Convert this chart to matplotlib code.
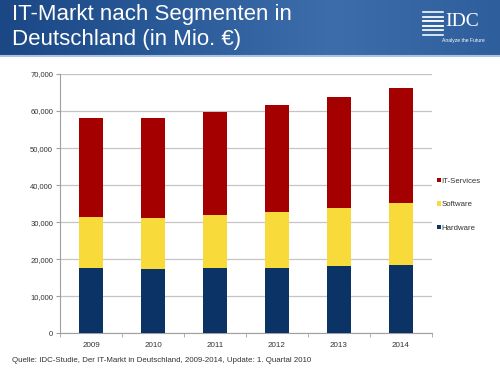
import numpy as np
import matplotlib.pyplot as plt
from matplotlib.colors import LinearSegmentedColormap

plt.rcParams['font.family'] = ['Liberation Sans', 'DejaVu Sans']

# Werte (in Mio. Euro)
years = ['2009', '2010', '2011', '2012', '2013', '2014']
hardware = [17600, 17250, 17500, 17750, 18100, 18550]
software = [13850, 14000, 14500, 15050, 15750, 16600]
services = [26750, 26950, 27750, 28800, 29900, 31150]
series_names = ['Hardware', 'Software', 'IT-Services']
colors = ['#0B3366', '#F8DA3A', '#A50000']

W, H = 500, 370
fig = plt.figure(figsize=(W / 100, H / 100), dpi=100)

# Kopfbereich mit blauem Verlauf
ban = fig.add_axes([0, (H - 56) / H, 1, 56 / H])
grad = np.linspace(0, 1, 256).reshape(1, -1)
cmap = LinearSegmentedColormap.from_list('banner', ['#1B4785', '#2A5A98', '#3D6DAA', '#2E5E9C'])
ban.imshow(grad, aspect='auto', cmap=cmap, extent=[0, 1, 0, 1])
ban.set_xlim(0, 1)
ban.set_ylim(0, 1)
ban.axis('off')
ban.text(0.024, 0.745, 'IT-Markt nach Segmenten in', color='white', fontsize=16,
         va='center', ha='left')
ban.text(0.024, 0.3, 'Deutschland (in Mio. €)', color='white', fontsize=16,
         va='center', ha='left')
# IDC Logo (vereinfacht)
for i, yy in enumerate(np.linspace(0.38, 0.78, 6)):
    ban.plot([0.845, 0.885], [yy, yy], color='white', lw=1.4 - 0.1 * abs(i - 2.5))
ban.text(0.89, 0.62, 'IDC', color='white', fontsize=14, family='Liberation Serif',
         va='center', ha='left')
ban.text(0.885, 0.28, 'Analyze the Future', color='white', fontsize=3.6,
         va='center', ha='left')
# heller Streifen unten
fig.add_artist(plt.Line2D([0, 1], [(H - 56) / H, (H - 56) / H], color='#A8C4E0', lw=1.5))

# Diagramm
ax = fig.add_axes([60 / W, (H - 333.3) / H, 372 / W, 259.3 / H])
x = np.arange(len(years))
bottom = np.zeros(len(years))
for vals, name, c in zip([hardware, software, services], series_names, colors):
    ax.bar(x, vals, width=0.4, bottom=bottom, color=c, label=name, zorder=3)
    bottom += np.array(vals)

ax.set_xlim(-0.5, len(years) - 0.5)
ax.set_ylim(0, 70000)
ax.set_yticks(np.arange(0, 70001, 10000))
ax.set_yticklabels([f'{v:,}' for v in range(0, 70001, 10000)])
ax.set_xticks(x)
ax.set_xticklabels(years)
ax.set_xticks(np.arange(-0.5, len(years)), minor=True)
ax.tick_params(axis='x', which='major', length=0, pad=6, labelsize=5.8, labelcolor='#333333')
ax.tick_params(axis='x', which='minor', length=3, color='#A0A0A0', direction='out')
ax.tick_params(axis='y', length=3, color='#A0A0A0', labelsize=5.5, labelcolor='#333333', pad=2)
ax.grid(axis='y', color='#C4C4C4', lw=0.9, zorder=0)
for s in ['top', 'right']:
    ax.spines[s].set_visible(False)
ax.spines['left'].set_color('#A0A0A0')
ax.spines['bottom'].set_color('#A0A0A0')

handles, labels = ax.get_legend_handles_labels()
leg = fig.legend(handles[::-1], labels[::-1], loc='upper left',
                 bbox_to_anchor=(430 / W, (H - 171) / H), frameon=False,
                 fontsize=5.6, handlelength=0.5, handleheight=0.5, handletextpad=0.1,
                 labelspacing=2.1)
for t in leg.get_texts():
    t.set_color('#333333')

fig.text(12 / W, (H - 360) / H, 'Quelle: IDC-Studie, Der IT-Markt in Deutschland, '
         '2009-2014, Update: 1. Quartal 2010', fontsize=5.7, color='#333333',
         va='center', ha='left')

fig.savefig('out.png', dpi=100)
